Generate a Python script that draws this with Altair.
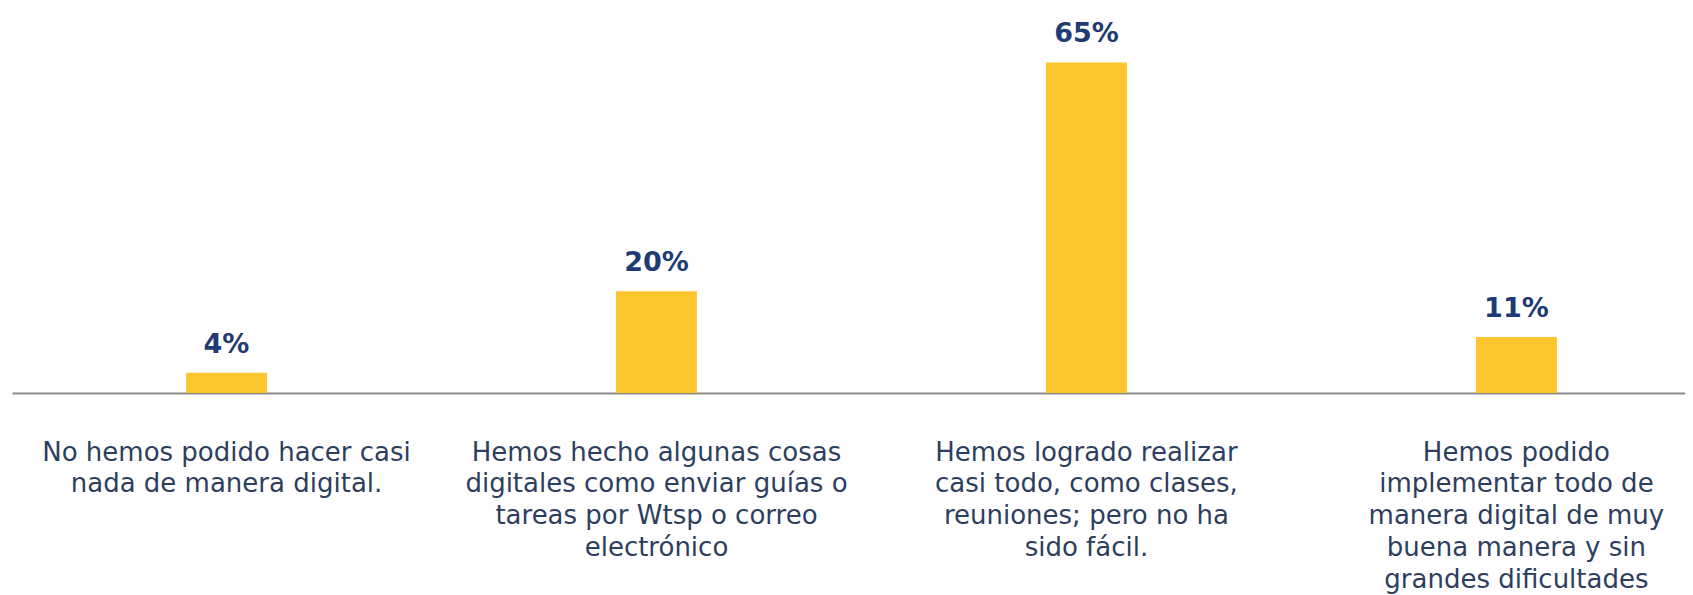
import altair as alt
import pandas as pd

categories = [
    "No hemos podido hacer casi|nada de manera digital.",
    "Hemos hecho algunas cosas|digitales como enviar guías o|tareas por Wtsp o correo|electrónico",
    "Hemos logrado realizar|casi todo, como clases,|reuniones; pero no ha|sido fácil.",
    "Hemos podido|implementar todo de|manera digital de muy|buena manera y sin|grandes dificultades",
]
values = [4, 20, 65, 11]
labels = ["4%", "20%", "65%", "11%"]

df = pd.DataFrame({"cat": categories, "val": values, "lab": labels})

x = alt.X(
    "cat:N",
    sort=categories,
    title=None,
    scale=alt.Scale(type="band", paddingInner=0.8116, paddingOuter=0.3513, align=0.576),
    axis=alt.Axis(
        labelExpr="split(datum.label, '|')",
        labelAngle=0,
        labelFont="DejaVu Sans",
        labelFontSize=26,
        labelColor="#2D3E5E",
        labelLineHeight=31.8,
        labelBaseline="alphabetic",
        labelPadding=67,
        labelLimit=0,
        labelOverlap=False,
        labelFlush=False,
        ticks=False,
        tickSize=0,
        domainColor="#8c8c8c",
        domainWidth=2,
        grid=False,
    ),
)
y = alt.Y("val:Q", scale=alt.Scale(domain=[0, 70], nice=False), axis=None)

bars = alt.Chart(df).mark_bar(color="#FCC62F").encode(x=x, y=y)
text = alt.Chart(df).mark_text(
    font="DejaVu Sans",
    fontSize=27,
    fontWeight="bold",
    color="#1F3B73",
    baseline="alphabetic",
    dy=-20,
).encode(x=x, y=y, text="lab:N")

chart = (
    alt.layer(bars, text)
    .properties(
        width=1673,
        height=356,
        background="white",
        autosize=alt.AutoSizeParams(type="none"),
        padding={"left": 4, "top": 29, "right": 0, "bottom": 202},
    )
    .configure_view(stroke="transparent", strokeWidth=0)
)

chart.save("out.html", embed_options={"renderer": "svg", "actions": False})
